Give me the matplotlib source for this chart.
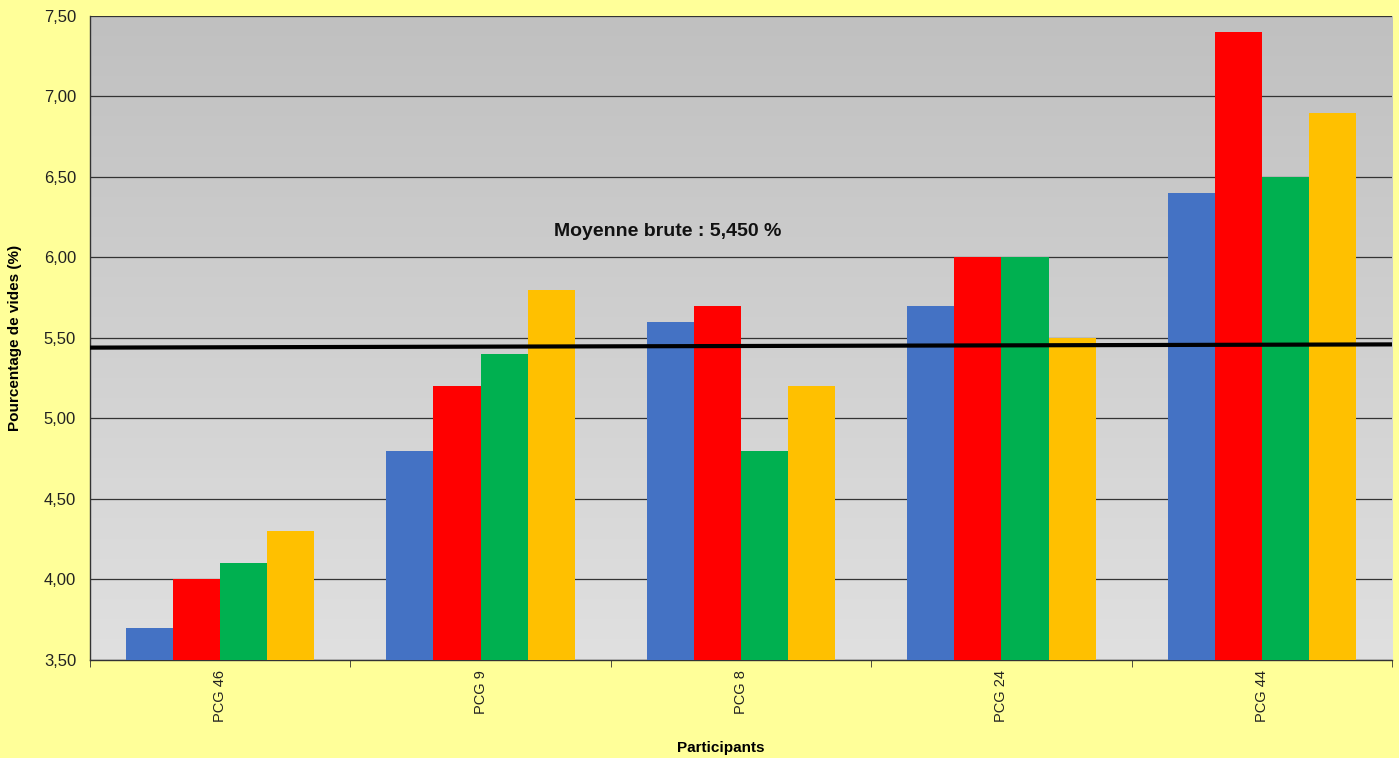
import numpy as np
import matplotlib.pyplot as plt
from matplotlib.ticker import FuncFormatter

plt.rcParams['font.family'] = ['Liberation Sans', 'DejaVu Sans']

# Data
participants = ["PCG 46", "PCG 9", "PCG 8", "PCG 24", "PCG 44"]
serie_1 = [3.70, 4.80, 5.60, 5.70, 6.40]
serie_2 = [4.00, 5.20, 5.70, 6.00, 7.40]
serie_3 = [4.10, 5.40, 4.80, 6.00, 6.50]
serie_4 = [4.30, 5.80, 5.20, 5.50, 6.90]
mean_line = [5.44, 5.46]
mean_label = "Moyenne brute : 5,450 %"

colors = ["#4472C4", "#FF0000", "#00B050", "#FFC000"]
series = [serie_1, serie_2, serie_3, serie_4]

fig = plt.figure(figsize=(13.99, 7.58), dpi=100, facecolor="#FFFF99")
ax = fig.add_axes([0.0643, 0.1293, 0.9307, 0.8497])

x = np.arange(len(participants))
w = 0.181

# Gray gradient background (darker at top)
grad = np.linspace(0, 1, 256).reshape(-1, 1)
ax.imshow(grad, extent=[-0.5, len(participants) - 0.5, 3.5, 7.5],
          cmap=plt.matplotlib.colors.LinearSegmentedColormap.from_list(
              "g", ["#E0E0E0", "#C0C0C0"]),
          aspect="auto", origin="lower", zorder=0)

for i, (vals, c) in enumerate(zip(series, colors)):
    ax.bar(x + (i - 1.5) * w, vals, width=w, color=c, zorder=3)

ax.plot([-0.5, len(participants) - 0.5], mean_line, color="black", lw=3,
        zorder=4)
ax.text(1.72, 6.16, mean_label, ha="center", va="center", fontsize=14,
        fontweight="bold", color="#111111", zorder=5)

ax.set_xlim(-0.5, len(participants) - 0.5)
ax.set_ylim(3.5, 7.5)
ax.set_yticks(np.arange(3.5, 7.51, 0.5))
ax.yaxis.set_major_formatter(FuncFormatter(lambda v, p: f"{v:.2f}".replace(".", ",")))
ax.yaxis.grid(True, color="#333333", lw=0.9, zorder=1)
ax.set_axisbelow(False)
ax.tick_params(axis="y", length=0, labelsize=12, pad=10, colors="#222222")

ax.set_xticks(x)
ax.set_xticklabels(participants, rotation=90, fontsize=10.5, color="#222222")
ax.set_xticks(np.arange(-0.5, len(participants), 1.0), minor=True)
ax.tick_params(axis="x", which="major", length=0, pad=7)
ax.tick_params(axis="x", which="minor", length=5, color="#333333")

for s in ["top", "right"]:
    ax.spines[s].set_visible(False)
for s in ["left", "bottom"]:
    ax.spines[s].set_color("#333333")
    ax.spines[s].set_linewidth(1.0)

ax.set_ylabel("Pourcentage de vides (%)", fontsize=11, fontweight="bold", labelpad=16)
fig.text(721 / 1399, 1 - 748 / 758, "Participants", ha="center", va="center",
         fontsize=11, fontweight="bold")

fig.savefig("out.png", dpi=100, facecolor=fig.get_facecolor())
